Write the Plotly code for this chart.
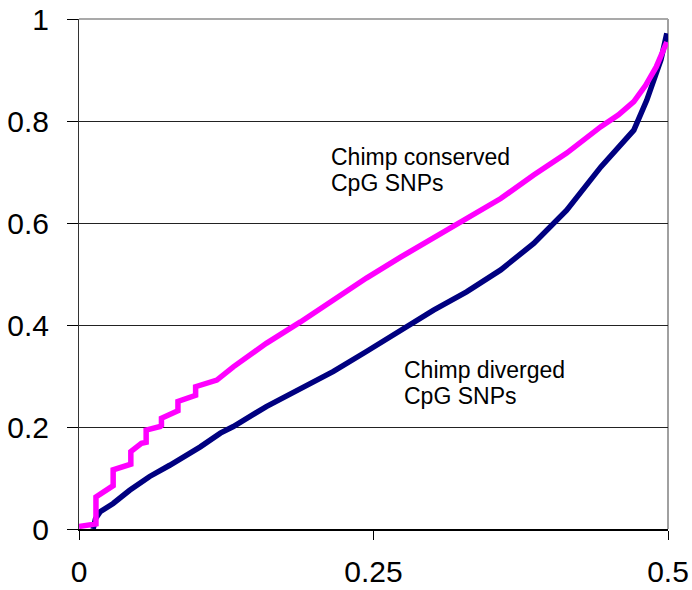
import plotly.graph_objects as go

# Chimp diverged CpG SNPs (navy)
div_x = [0.012, 0.014, 0.018, 0.029, 0.043, 0.060, 0.077, 0.094, 0.103, 0.120, 0.131,
         0.159, 0.188, 0.216, 0.244, 0.273, 0.301, 0.329, 0.358, 0.386, 0.414, 0.443,
         0.471, 0.482, 0.488, 0.494, 0.499]
div_y = [0.000, 0.020, 0.034, 0.050, 0.076, 0.103, 0.125, 0.148, 0.161, 0.188, 0.201,
         0.240, 0.276, 0.309, 0.348, 0.390, 0.429, 0.465, 0.508, 0.560, 0.625, 0.710,
         0.782, 0.841, 0.884, 0.920, 0.972]

# Chimp conserved CpG SNPs (magenta)
con_x = [0.000, 0.011, 0.0144, 0.0144, 0.026, 0.029, 0.029, 0.043, 0.044, 0.044, 0.053,
         0.057, 0.057, 0.069, 0.070, 0.070, 0.083, 0.084, 0.084, 0.097, 0.099, 0.099,
         0.117, 0.131, 0.159, 0.188, 0.216, 0.244, 0.273, 0.301, 0.329, 0.358, 0.386,
         0.414, 0.443, 0.458, 0.471, 0.481, 0.490, 0.499]
con_y = [0.005, 0.010, 0.010, 0.063, 0.083, 0.085, 0.116, 0.125, 0.127, 0.152, 0.168,
         0.170, 0.194, 0.201, 0.203, 0.217, 0.230, 0.232, 0.250, 0.259, 0.262, 0.279,
         0.292, 0.318, 0.364, 0.406, 0.449, 0.492, 0.533, 0.570, 0.609, 0.648, 0.694,
         0.737, 0.789, 0.812, 0.838, 0.870, 0.906, 0.955]

x_ticks = [0, 0.25, 0.5]
x_tick_labels = ["0", "0.25", "0.5"]
y_ticks = [0, 0.2, 0.4, 0.6, 0.8, 1]
y_tick_labels = ["0", "0.2", "0.4", "0.6", "0.8", "1"]

FONT = "Liberation Sans, Arial, sans-serif"

fig = go.Figure()
fig.add_trace(go.Scatter(x=div_x, y=div_y, mode="lines",
                         line=dict(color="#000080", width=5.5), showlegend=False))
fig.add_trace(go.Scatter(x=con_x, y=con_y, mode="lines",
                         line=dict(color="#FF00FF", width=5.5), showlegend=False))

ann_font = dict(family=FONT, size=23, color="black")
for txt, xx, yy in [("Chimp conserved", 0.2124, 0.7294), ("CpG SNPs", 0.2124, 0.6794),
                    ("Chimp diverged", 0.2744, 0.3108), ("CpG SNPs", 0.2744, 0.2608)]:
    fig.add_annotation(x=xx, y=yy, text=txt, showarrow=False, xanchor="left",
                       yanchor="middle", font=ann_font)

# plot-area border (top and right, gray)
fig.add_shape(type="line", xref="paper", yref="paper", x0=0, x1=1, y0=1, y1=1,
              line=dict(color="#8c8c8c", width=1.5), layer="below")
fig.add_shape(type="line", xref="paper", yref="paper", x0=1, x1=1, y0=0, y1=1,
              line=dict(color="#a0a0a0", width=2), layer="below")

fig.update_layout(
    width=692, height=590,
    margin=dict(l=79, r=24, t=19, b=61),
    paper_bgcolor="white", plot_bgcolor="white",
    font=dict(family=FONT, size=30, color="black"),
    xaxis=dict(range=[0, 0.5], tickvals=x_ticks, ticktext=x_tick_labels,
               showgrid=False, zeroline=False, showline=True, linecolor="black",
               linewidth=2, ticks="outside", ticklen=9, tickcolor="black",
               tickfont=dict(size=30), ticklabelstandoff=6, automargin=False,
               ticklabeloverflow="allow"),
    yaxis=dict(range=[0, 1], tickvals=y_ticks, ticktext=y_tick_labels,
               showgrid=True, gridcolor="#222222", gridwidth=1, zeroline=False,
               showline=True, linecolor="#333333", linewidth=1,
               ticks="outside", ticklen=11, tickcolor="black",
               tickfont=dict(size=30), ticklabelstandoff=12, automargin=False,
               ticklabeloverflow="allow"),
)

# remove the default 8px page margin so the figure fills the 692x590 window exactly
fig.write_html("out.html", config={"displayModeBar": False},
               post_script="document.body.style.margin='0';document.body.style.overflow='hidden';")
